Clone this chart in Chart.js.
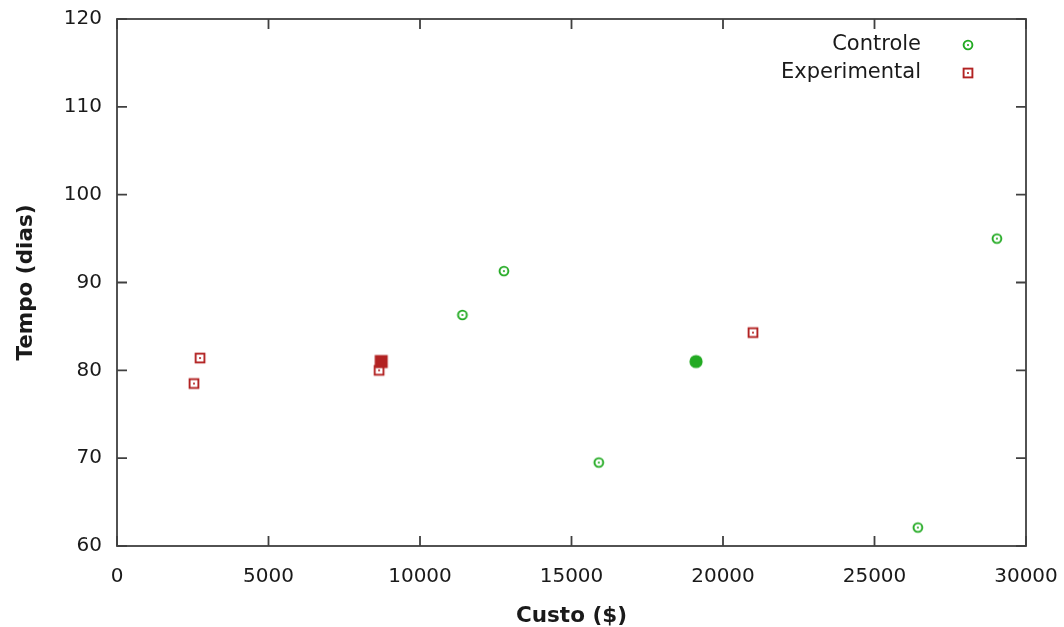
<!DOCTYPE html>
<html>
<head>
<meta charset="utf-8">
<script src="https://cdn.jsdelivr.net/npm/chart.js@4.4.0/dist/chart.umd.min.js"></script>
<style>
  body { margin: 0; background: #fff; }
  #wrap { width: 1064px; height: 627px; }
</style>
</head>
<body>
<div id="wrap"><canvas id="myChart" width="1064" height="627"></canvas></div>
<script>
// data
var controleX = [11400, 12770, 15900, 26430, 29040];
var controleY = [86.3, 91.3, 69.5, 62.1, 95.0];
var experimentalX = [2740, 2540, 8650, 20990];
var experimentalY = [81.4, 78.5, 80.0, 84.3];
var mediaControle = [19110, 81.0];
var mediaExperimental = [8720, 81.0];
var xTicks = [0, 5000, 10000, 15000, 20000, 25000, 30000];
var yTicks = [60, 70, 80, 90, 100, 110, 120];

var green = '#22aa22';
var red = '#b22222';

function toPoints(xs, ys) {
  var pts = [];
  for (var i = 0; i < xs.length; i++) pts.push({x: xs[i], y: ys[i]});
  return pts;
}

// small gnuplot-like markers
function circleDot(color) {
  var c = document.createElement('canvas');
  c.width = 14; c.height = 14;
  var g = c.getContext('2d');
  g.strokeStyle = color; g.lineWidth = 1.9;
  g.beginPath(); g.arc(7, 7, 4.4, 0, Math.PI * 2); g.stroke();
  g.fillStyle = color; g.fillRect(6.1, 6.1, 1.8, 1.8);
  return c;
}
function squareDot(color) {
  var c = document.createElement('canvas');
  c.width = 14; c.height = 14;
  var g = c.getContext('2d');
  g.strokeStyle = color; g.lineWidth = 1.9;
  g.strokeRect(2.6, 2.6, 8.8, 8.8);
  g.fillStyle = color; g.fillRect(6.1, 6.1, 1.8, 1.8);
  return c;
}
function filledCircle(color) {
  var c = document.createElement('canvas');
  c.width = 16; c.height = 16;
  var g = c.getContext('2d');
  g.fillStyle = color;
  g.beginPath(); g.arc(8, 8, 6.6, 0, Math.PI * 2); g.fill();
  return c;
}
function filledSquare(color) {
  var c = document.createElement('canvas');
  c.width = 16; c.height = 16;
  var g = c.getContext('2d');
  g.fillStyle = color;
  g.fillRect(1.5, 1.5, 13, 13);
  return c;
}

var mkControle = circleDot(green);
var mkExperimental = squareDot(red);

// frame + inward ticks on all sides, like gnuplot
var framePlugin = {
  id: 'frame',
  afterDraw: function(chart) {
    var ctx = chart.ctx, a = chart.chartArea;
    var xs = chart.scales.x, ys = chart.scales.y;
    var tl = 10;
    ctx.save();
    ctx.strokeStyle = '#404040';
    ctx.lineWidth = 1.8;
    ctx.strokeRect(a.left, a.top, a.right - a.left, a.bottom - a.top);
    ctx.beginPath();
    xTicks.forEach(function(v) {
      var px = xs.getPixelForValue(v);
      ctx.moveTo(px, a.bottom); ctx.lineTo(px, a.bottom - tl);
      ctx.moveTo(px, a.top); ctx.lineTo(px, a.top + tl);
    });
    yTicks.forEach(function(v) {
      var py = ys.getPixelForValue(v);
      ctx.moveTo(a.left, py); ctx.lineTo(a.left + tl, py);
      ctx.moveTo(a.right, py); ctx.lineTo(a.right - tl, py);
    });
    ctx.stroke();
    ctx.restore();
  }
};

// legend with text left of the marker
var keyPlugin = {
  id: 'key',
  afterDraw: function(chart) {
    var ctx = chart.ctx;
    var items = [
      {text: chart.data.datasets[0].label, img: mkControle, y: 45},
      {text: chart.data.datasets[1].label, img: mkExperimental, y: 73}
    ];
    ctx.save();
    ctx.font = '21px "DejaVu Sans"';
    ctx.fillStyle = '#1a1a1a';
    ctx.textAlign = 'right';
    ctx.textBaseline = 'middle';
    items.forEach(function(it) {
      ctx.fillText(it.text, 921, it.y);
      ctx.drawImage(it.img, 968 - 7, it.y - 7);
    });
    ctx.restore();
  }
};

Chart.defaults.font.family = '"DejaVu Sans"';
Chart.defaults.color = '#1a1a1a';

const config = {
  type: 'scatter',
  data: {
    datasets: [{
      label: 'Controle',
      data: toPoints(controleX, controleY),
      pointStyle: mkControle,
      order: 2
    }, {
      label: 'Experimental',
      data: toPoints(experimentalX, experimentalY),
      pointStyle: mkExperimental,
      order: 2
    }, {
      label: 'media controle',
      data: [{x: mediaControle[0], y: mediaControle[1]}],
      pointStyle: filledCircle(green),
      order: 1
    }, {
      label: 'media experimental',
      data: [{x: mediaExperimental[0], y: mediaExperimental[1]}],
      pointStyle: filledSquare(red),
      order: 1
    }]
  },
  options: {
    responsive: false,
    animation: false,
    layout: { padding: { left: 0, top: 19, right: 38, bottom: 0 } },
    plugins: {
      legend: { display: false },
      tooltip: { enabled: false }
    },
    scales: {
      x: {
        type: 'linear',
        min: 0, max: 30000,
        afterBuildTicks: function(s) { s.ticks = xTicks.map(function(v) { return {value: v}; }); },
        afterFit: function(s) { s.height = 81; s.paddingLeft = 0; s.paddingRight = 0; },
        grid: { display: false, drawTicks: false },
        border: { display: false },
        ticks: { font: { size: 20 }, color: '#1a1a1a', padding: 19, maxRotation: 0,
                 callback: function(v) { return String(v); } },
        title: { display: true, text: 'Custo ($)', font: { size: 21.5, weight: 'bold', lineHeight: 1 }, color: '#1a1a1a',
                 padding: { top: 0, bottom: 0 } }
      },
      y: {
        type: 'linear',
        min: 60, max: 120,
        afterBuildTicks: function(s) { s.ticks = yTicks.map(function(v) { return {value: v}; }); },
        afterFit: function(s) { s.width = 117; s.paddingTop = 0; s.paddingBottom = 0; },
        grid: { display: false, drawTicks: false },
        border: { display: false },
        ticks: { font: { size: 20 }, color: '#1a1a1a', padding: 15 },
        title: { display: true, text: 'Tempo (dias)', font: { size: 21.5, weight: 'bold', lineHeight: 1 }, color: '#1a1a1a',
                 padding: { top: 16, bottom: 0 } }
      }
    }
  },
  plugins: [framePlugin, keyPlugin]
};

const myChart = new Chart(document.getElementById('myChart'), config);
</script>
</body>
</html>
